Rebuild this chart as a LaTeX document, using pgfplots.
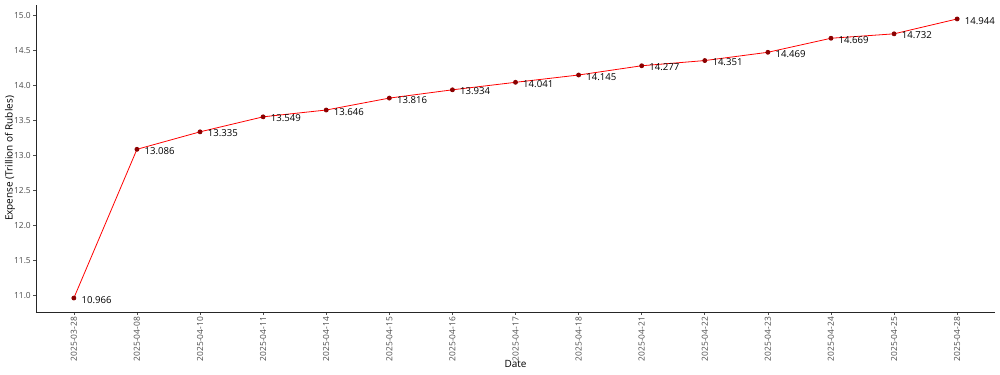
\documentclass[border=0pt]{standalone}
\usepackage{fontspec}
\setmainfont{Open Sans}
\usepackage{pgfplots}
\usepackage{pgfplotstable}
\pgfplotsset{compat=1.18}
\definecolor{tickgrey}{HTML}{4D4D4D}
\definecolor{ptred}{HTML}{8B0000}
\pgfplotstableread{
x y lab
0 10.966 10.966
1 13.086 13.086
2 13.335 13.335
3 13.549 13.549
4 13.646 13.646
5 13.816 13.816
6 13.934 13.934
7 14.041 14.041
8 14.145 14.145
9 14.277 14.277
10 14.351 14.351
11 14.469 14.469
12 14.669 14.669
13 14.732 14.732
14 14.944 14.944
}\datatab
\begin{document}
\begin{tikzpicture}[x=1pt,y=1pt]
\useasboundingbox (0,0) rectangle (750,281.25);
\begin{axis}[
  at={(27pt,47.25pt)}, anchor=south west,
  scale only axis, width=719.25pt, height=230.25pt,
  xmin=-0.6, xmax=14.6, ymin=10.767, ymax=15.143,
  axis x line=bottom, axis y line=left,
  axis line style={-, black!85, line width=0.7pt},
  xtick={0,...,14},
  xticklabels={2025-03-28,2025-04-08,2025-04-10,2025-04-11,2025-04-14,2025-04-15,2025-04-16,2025-04-17,2025-04-18,2025-04-21,2025-04-22,2025-04-23,2025-04-24,2025-04-25,2025-04-28},
  xticklabel style={rotate=90, anchor=east, font=\fontsize{6.3}{7}\selectfont, color=tickgrey, inner sep=1.5pt},
  ytick={11,11.5,12,12.5,13,13.5,14,14.5,15},
  yticklabel style={font=\fontsize{6.3}{7}\selectfont, color=tickgrey, inner sep=1.5pt, /pgf/number format/.cd, fixed, fixed zerofill, precision=1, assume math mode=true},
  tick align=outside, major tick length=2.2pt,
  tick style={black!70, line width=0.5pt},
  xlabel={Date}, ylabel={Expense (Trillion of Rubles)},
  xlabel style={at={(axis description cs:0.5,0)}, anchor=center, yshift=-39pt, font=\fontsize{7.5}{8}\selectfont},
  ylabel style={at={(axis description cs:0,0.5)}, anchor=center, yshift=19.5pt, font=\fontsize{7.5}{8}\selectfont},
  clip=false,
]
\addplot[red, line width=0.6pt, mark=*, mark size=1.5pt, mark options={fill=ptred, draw=ptred},
  point meta=explicit symbolic,
  nodes near coords,
  every node near coord/.style={anchor=west, xshift=4.5pt, yshift=-1.3pt, font=\fontsize{7.2}{8}\selectfont, color=black, inner sep=1pt}]
  table[x=x, y=y, meta=lab]{\datatab};
\end{axis}
\end{tikzpicture}
\end{document}
